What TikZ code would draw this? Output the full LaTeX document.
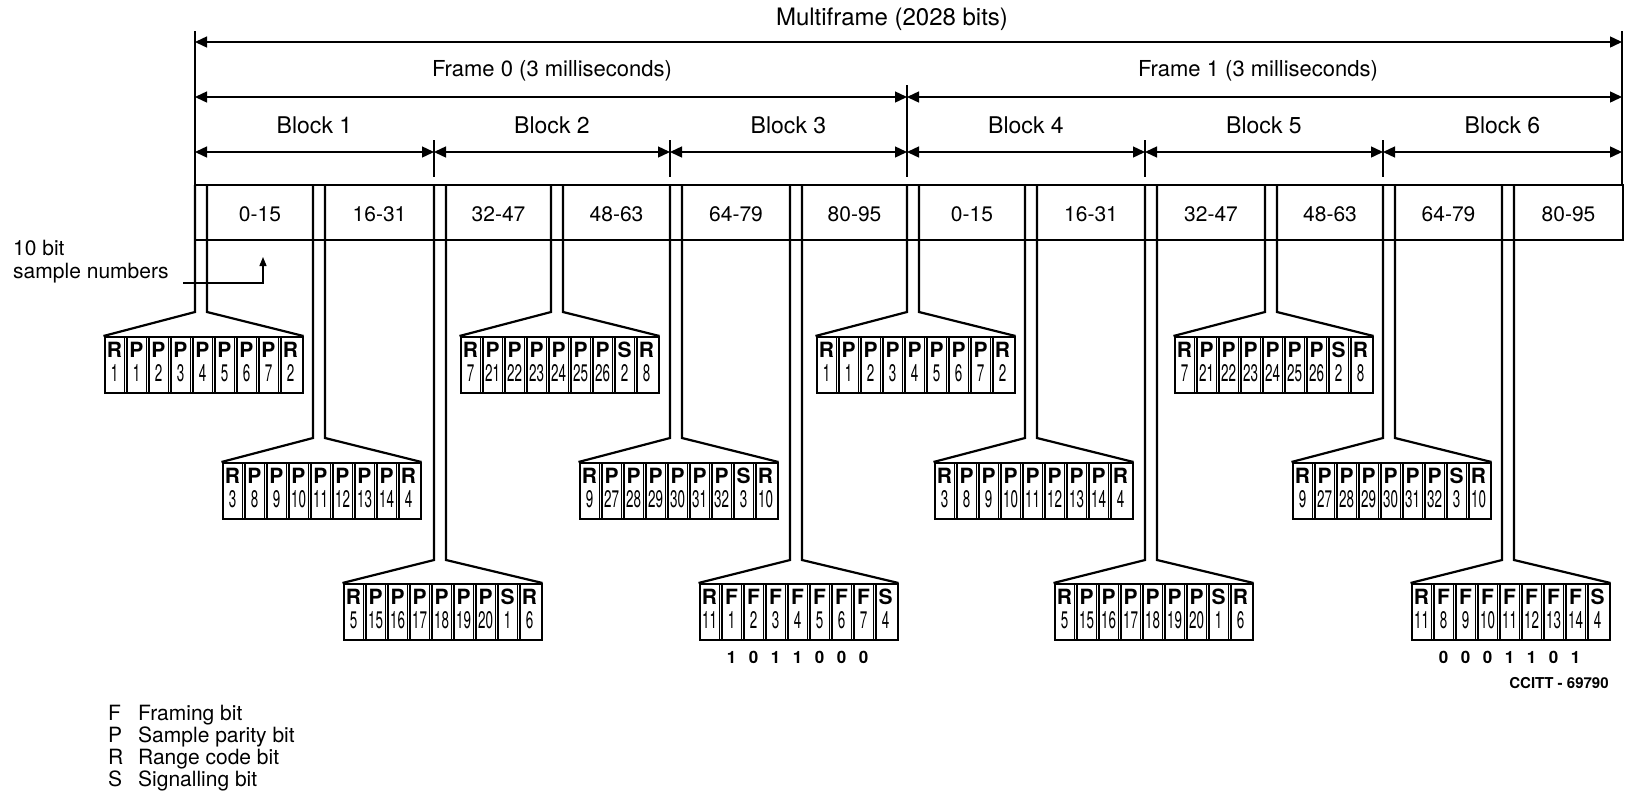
\documentclass[tikz,border=0pt]{standalone}
\usepackage{fontspec}
\setmainfont{TeX Gyre Heros}
\usepackage{graphicx}
\usetikzlibrary{arrows.meta}
\tikzset{
  heavy/.style={line width=2.2pt, line join=miter},
  dimline/.style={line width=1.4pt, {Triangle[length=12pt,width=11pt]}-{Triangle[length=12pt,width=11pt]}},
  tickline/.style={line width=1.4pt},
  lbl/.style={inner sep=0pt, font=\fontsize{22}{22}\selectfont},
  celltxt/.style={inner sep=0pt, font=\fontsize{21}{21}\selectfont},
  bitframe/.style={draw, line width=2pt, minimum width=198pt, minimum height=56pt, anchor=north west, inner sep=0pt},
  sepline/.style={line width=1.2pt},
  bitletter/.style={inner sep=0pt, font=\bfseries\fontsize{21}{21}\selectfont},
  bitnum/.style={inner sep=0pt, font=\fontsize{24}{24}\selectfont},
  framebit/.style={inner sep=0pt, font=\bfseries\fontsize{17}{17}\selectfont},
  legend/.style={inner sep=0pt, anchor=base west, font=\fontsize{21}{21}\selectfont},
}
\newcommand\cnum[1]{\scalebox{0.56}[1]{#1}}
\newcommand\branch[4]{%
  \ifcase#3\or
    \def\fany{312}\def\bxt{336}\or
    \def\fany{438}\def\bxt{462}\or
    \def\fany{560}\def\bxt{583}\fi
  \pgfmathsetmacro\bxl{#2-91.5}
  \coordinate (#1-a) at (#2,185);
  \coordinate (#1-b) at (#2+12,185);
  \node[bitframe] (#1) at (\bxl,\bxt) {};
  \draw[heavy] (#1-a) -- (#2,\fany) -- (#1.north west);
  \draw[heavy] (#1-b) -- (#2+12,\fany) -- (#1.north east);
  \foreach \l/\n [count=\j from 0] in {#4} {
    \ifnum\j>0
      \draw[sepline] (\bxl+22*\j-1.4,\bxt) -- ++(0,56);
      \draw[sepline] (\bxl+22*\j+1.4,\bxt) -- ++(0,56);
    \fi
    \node[bitletter] at (\bxl+22*\j+11,\bxt+14) {\l};
    \node[bitnum] at (\bxl+22*\j+11,\bxt+37) {\cnum{\n}};
  }
}
\begin{document}
\begin{tikzpicture}[x=1pt,y=-1pt]
\useasboundingbox (0,0) rectangle (1642,796);

% block boundaries
\foreach \k/\xx in {0/195,1/434,2/670,3/907,4/1145,5/1383,6/1622}
  \coordinate (B\k) at (\xx,152);

% titles
\node[lbl, font=\fontsize{24}{24}\selectfont] (mf) at (892,19) {Multiframe (2028 bits)};
\node[lbl] (f0) at (552,71) {Frame 0 (3 milliseconds)};
\node[lbl] (f1) at (1258,71) {Frame 1 (3 milliseconds)};
\foreach \k/\a/\b in {1/195/434,2/434/670,3/670/907,4/907/1145,5/1145/1383,6/1383/1622}
  \node[lbl, font=\fontsize{23}{23}\selectfont] (blk\k) at ({(\a+\b)/2},125) {Block \k};

% ticks
\draw[tickline] (195,31) -- (195,185);
\draw[tickline] (1622,31) -- (1622,185);
\draw[tickline] (907,85) -- (907,177);
\foreach \xx in {434,670,1145,1383}
  \draw[tickline] (\xx,140) -- (\xx,177);

% dimension arrows
\coordinate (mL) at (195,42); \coordinate (mR) at (1622,42);
\draw[dimline] (mL) -- (mR);
\coordinate (fL) at (195,97); \coordinate (fM) at (907,97); \coordinate (fR) at (1622,97);
\draw[dimline] (fL) -- (fM);
\draw[dimline] (fM) -- (fR);
\foreach \k [evaluate=\k as \kk using int(\k+1)] in {0,...,5}
  \draw[dimline] (B\k) -- (B\kk);

% main bar
\draw[heavy] (195,185) rectangle (1623,240);
\foreach \cx/\t [count=\i] in {260/0-15,379.5/16-31,498.5/32-47,616.5/48-63,736/64-79,854.5/80-95,
   972/0-15,1091/16-31,1211/32-47,1330/48-63,1448.5/64-79,1568.5/80-95}
  \node[celltxt] (cell\i) at (\cx,214) {\t};

% branches
\branch{bx1}{195}{1}{R/1,P/1,P/2,P/3,P/4,P/5,P/6,P/7,R/2}
\branch{bx2}{313}{2}{R/3,P/8,P/9,P/10,P/11,P/12,P/13,P/14,R/4}
\branch{bx3}{434}{3}{R/5,P/15,P/16,P/17,P/18,P/19,P/20,S/1,R/6}
\branch{bx4}{551}{1}{R/7,P/21,P/22,P/23,P/24,P/25,P/26,S/2,R/8}
\branch{bx5}{670}{2}{R/9,P/27,P/28,P/29,P/30,P/31,P/32,S/3,R/10}
\branch{bx6}{790}{3}{R/11,F/1,F/2,F/3,F/4,F/5,F/6,F/7,S/4}
\branch{bx7}{907}{1}{R/1,P/1,P/2,P/3,P/4,P/5,P/6,P/7,R/2}
\branch{bx8}{1025}{2}{R/3,P/8,P/9,P/10,P/11,P/12,P/13,P/14,R/4}
\branch{bx9}{1145}{3}{R/5,P/15,P/16,P/17,P/18,P/19,P/20,S/1,R/6}
\branch{bx10}{1265}{1}{R/7,P/21,P/22,P/23,P/24,P/25,P/26,S/2,R/8}
\branch{bx11}{1383}{2}{R/9,P/27,P/28,P/29,P/30,P/31,P/32,S/3,R/10}
\branch{bx12}{1502}{3}{R/11,F/8,F/9,F/10,F/11,F/12,F/13,F/14,S/4}

% framing bit values
\foreach \v [count=\j] in {1,0,1,1,0,0,0}
  \node[framebit] (fa\j) at (698.5+22*\j+11,657) {\v};
\foreach \v [count=\j] in {0,0,0,1,1,0,1}
  \node[framebit] (fb\j) at (1410.5+22*\j+11,657) {\v};

% sample numbers note
\node[lbl, align=left, anchor=west, font=\fontsize{21}{23}\selectfont] (sn) at (13,261.5) {10 bit\\sample numbers};
\coordinate (snA) at (183,283);
\coordinate (snB) at (263,257);
\draw[line width=1.3pt, -{Triangle[length=9pt,width=7pt]}] (snA) -| (snB);

% reference
\node[inner sep=0pt, font=\bfseries\fontsize{15}{15}\selectfont] (ref) at (1559,683) {CCITT - 69790};

% legend
\node[legend] (lg1) at (108,720) {\makebox[30pt][l]{F}Framing bit};
\node[legend] (lg2) at (108,742.3) {\makebox[30pt][l]{P}Sample parity bit};
\node[legend] (lg3) at (108,764.6) {\makebox[30pt][l]{R}Range code bit};
\node[legend] (lg4) at (108,786.9) {\makebox[30pt][l]{S}Signalling bit};
\end{tikzpicture}
\end{document}
